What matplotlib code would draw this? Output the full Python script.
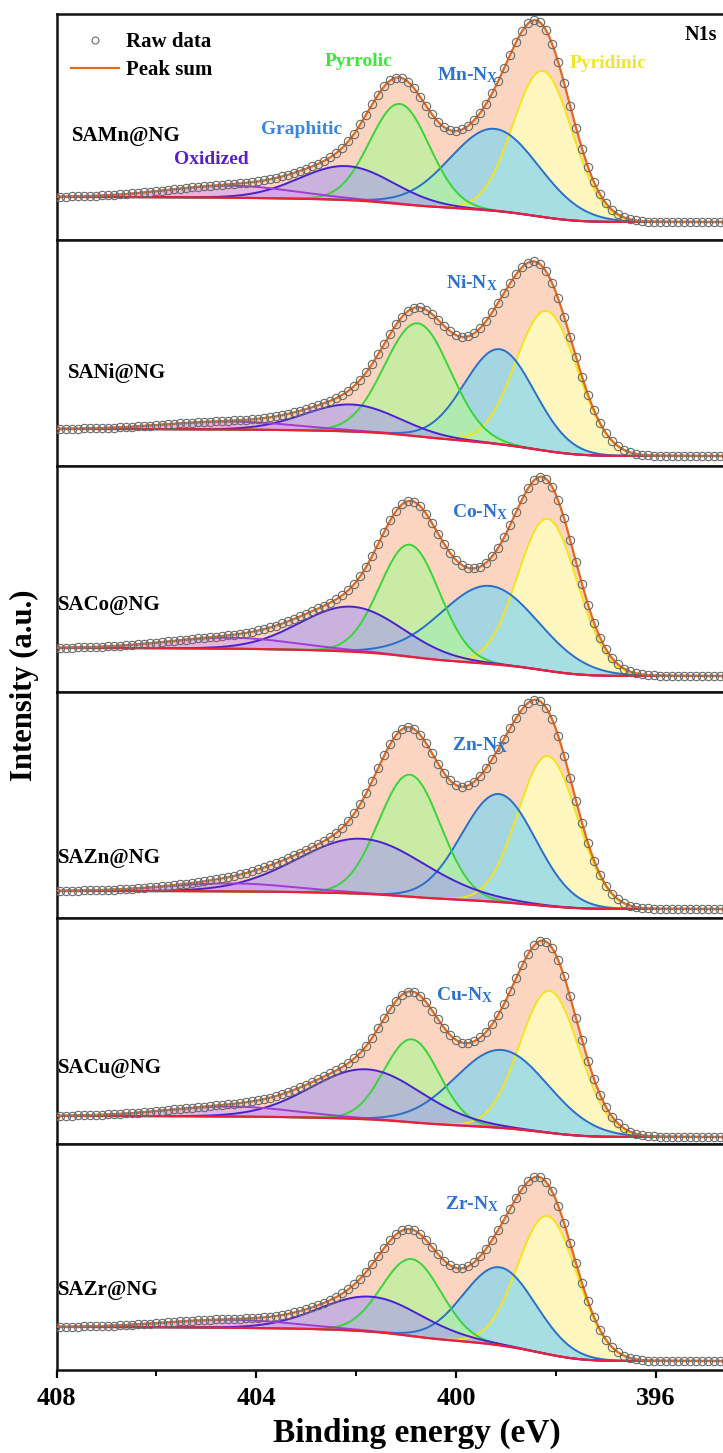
import numpy as np
import matplotlib

matplotlib.use("Agg")
import matplotlib.pyplot as plt
from matplotlib.lines import Line2D
from matplotlib.ticker import MultipleLocator

plt.rcParams["font.family"] = ["Liberation Serif", "DejaVu Serif"]
plt.rcParams["font.weight"] = "bold"
plt.rcParams["mathtext.fontset"] = "custom"
plt.rcParams["mathtext.rm"] = "Liberation Serif:bold"
plt.rcParams["mathtext.it"] = "Liberation Serif:bold"
plt.rcParams["mathtext.bf"] = "Liberation Serif:bold"

# samples, top to bottom
samples = ["SAMn@NG", "SANi@NG", "SACo@NG", "SAZn@NG", "SACu@NG", "SAZr@NG"]
metals = ["Mn", "Ni", "Co", "Zn", "Cu", "Zr"]

# fitted N1s components (centre eV, FWHM eV, height a.u.), one value per sample
oxidized_pos = [404.5, 404.5, 404.5, 404.5, 404.5, 404.5]
oxidized_fwhm = [3.0, 3.0, 3.0, 3.0, 3.0, 3.0]
oxidized_h = [12, 8, 11, 8, 10, 8]

graphitic_pos = [402.2, 402.1, 402.1, 401.9, 401.8, 401.7]
graphitic_fwhm = [2.2, 2.2, 2.4, 3.0, 2.6, 2.4]
graphitic_h = [34, 27, 45, 55, 50, 35]

pyrrolic_pos = [401.13, 400.77, 400.93, 400.93, 400.89, 400.89]
pyrrolic_fwhm = [1.4, 1.55, 1.4, 1.45, 1.3, 1.4]
pyrrolic_h = [100, 113, 112, 122, 83, 77]

mnx_pos = [399.23, 399.13, 399.33, 399.15, 399.09, 399.13]
mnx_fwhm = [2.1, 1.65, 2.3, 1.75, 2.2, 1.7]
mnx_h = [82, 95, 78, 108, 78, 78]

pyridinic_pos = [398.27, 398.19, 398.17, 398.17, 398.13, 398.17]
pyridinic_fwhm = [1.4, 1.45, 1.4, 1.4, 1.4, 1.4]
pyridinic_h = [146, 140, 152, 150, 142, 138]

# Shirley background end levels (high BE side, low BE side)
bg_high = [43, 37, 44, 27, 28, 43]
bg_low = [18, 10, 16, 9, 7, 9]

# label positions in pixels (x, y)
sample_xy = [(72, 136), (68, 373), (58, 605), (58, 858), (58, 1068), (58, 1290)]
mnx_xy = [(468, 75), (472, 283), (480, 512), (480, 745), (465, 995), (472, 1204)]

W, H = 723, 1453
line_cols = ["#a33ad6", "#4a22cc", "#3ad43a", "#2a70c8", "#f2e41e"]
fill_cols = ["#d9a0f2", "#a89cf0", "#b4f59a", "#8ad6ee", "#fffdc0"]
fill_alpha = [0.6, 0.6, 0.7, 0.75, 0.85]


def fpos(x, y):
    return x / W, 1 - y / H


def gauss(e, c, fwhm, h):
    s = fwhm / 2.3548
    return h * np.exp(-0.5 * ((e - c) / s) ** 2)


def shirley(e, peaks, low, high):
    area = np.concatenate([[0], np.cumsum(0.5 * (peaks[1:] + peaks[:-1]) * np.diff(e))])
    return low + (high - low) * area / area[-1]


e = np.linspace(393.5, 408.5, 1500)
e_raw = np.arange(394.0, 408.35, 0.12)

fig = plt.figure(figsize=(W / 100, H / 100), dpi=100)
gs = fig.add_gridspec(6, 1, left=56.5 / W, right=1.0, top=1 - 14 / H, bottom=1 - 1370 / H, hspace=0)

for i in range(6):
    ax = fig.add_subplot(gs[i])
    pars = [
        (oxidized_pos[i], oxidized_fwhm[i], oxidized_h[i]),
        (graphitic_pos[i], graphitic_fwhm[i], graphitic_h[i]),
        (pyrrolic_pos[i], pyrrolic_fwhm[i], pyrrolic_h[i]),
        (mnx_pos[i], mnx_fwhm[i], mnx_h[i]),
        (pyridinic_pos[i], pyridinic_fwhm[i], pyridinic_h[i]),
    ]
    comps = [gauss(e, *p) for p in pars]
    peaks = np.sum(comps, axis=0)
    bg = shirley(e, peaks, bg_low[i], bg_high[i])
    total = bg + peaks

    ax.fill_between(e, bg, total, color="#fac8aa", alpha=0.75, lw=0, zorder=1)
    for k in [4, 3, 2, 1, 0]:
        ax.fill_between(e, bg, bg + comps[k], color=fill_cols[k], alpha=fill_alpha[k], lw=0, zorder=2)
    for k in [4, 3, 2, 1, 0]:
        ax.plot(e, bg + comps[k], color=line_cols[k], lw=1.4, zorder=3)
    ax.plot(e, bg, color="#e8203c", lw=1.6, zorder=4)
    ax.plot(e, total, color="#e06a20", lw=1.6, zorder=5)
    ax.plot(e_raw, np.interp(e_raw, e, total), "o", ms=6, mfc="none", mec="#6a6a6a", mew=0.8, zorder=6)

    ax.set_xlim(408, 394.66)
    ax.set_ylim(0, 226)
    ax.set_yticks([])
    for side in ["left", "top", "bottom"]:
        ax.spines[side].set_linewidth(1.8)
        ax.spines[side].set_color("#111111")
    ax.spines["right"].set_visible(False)

    if i < 5:
        ax.tick_params(axis="x", bottom=False, labelbottom=False)
    else:
        ax.set_xticks([408, 404, 400, 396])
        ax.xaxis.set_minor_locator(MultipleLocator(2))
        ax.tick_params(axis="x", which="major", direction="out", length=6, width=1.6, labelsize=19, pad=6)
        ax.tick_params(axis="x", which="minor", direction="out", length=4, width=1.4)
        ax.set_xlabel("Binding energy (eV)", fontsize=24, fontweight="bold", labelpad=2)
        ax.xaxis.set_label_coords((417 - 56.5) / (W - 56.5), -0.21)

    x, y = fpos(*sample_xy[i])
    fig.text(x, y, samples[i], fontsize=15, fontweight="bold", ha="left", va="center")
    x, y = fpos(*mnx_xy[i])
    fig.text(x, y, metals[i] + r"-N$_{\mathrm{X}}$", fontsize=14, color="#2f72cc",
             fontweight="bold", ha="center", va="center")

    if i == 0:
        handles = [
            Line2D([], [], ls="none", marker="o", ms=5, mfc="none", mec="#6a6a6a", mew=0.8),
            Line2D([], [], color="#e06a20", lw=1.6),
        ]
        ax.legend(handles, ["Raw data", "Peak sum"], loc="upper left", bbox_to_anchor=(0.0, 0.985),
                  frameon=False, prop={"size": 15, "weight": "bold"}, handlelength=2.3,
                  handletextpad=0.35, labelspacing=0.4, borderaxespad=0.3)

# peak names in top panel
for name, (px_, py_), col in [
    ("Oxidized", (211, 160), "#5a20c8"),
    ("Graphitic", (302, 130), "#3d85d8"),
    ("Pyrrolic", (359, 62), "#3ce63c"),
    ("Pyridinic", (608, 63), "#ece828"),
]:
    x, y = fpos(px_, py_)
    fig.text(x, y, name, fontsize=14, color=col, fontweight="bold", ha="center", va="center")

x, y = fpos(701, 35)
fig.text(x, y, "N1s", fontsize=14.5, fontweight="bold", ha="center", va="center")
x, y = fpos(24, 685)
fig.text(x, y, "Intensity (a.u.)", fontsize=22, fontweight="bold", rotation=90, ha="center", va="center")

fig.savefig("out.png", dpi=100)
